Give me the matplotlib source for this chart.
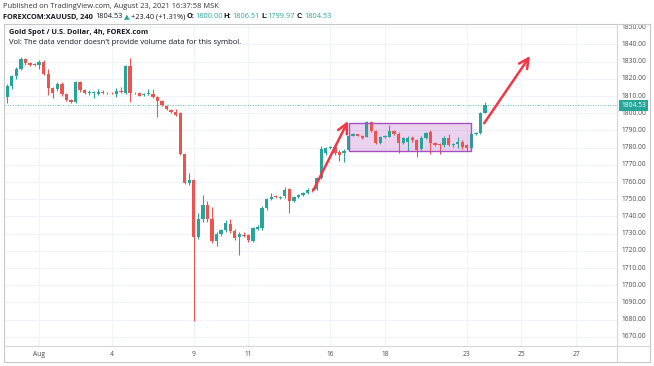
import matplotlib
matplotlib.use("Agg")
import matplotlib.pyplot as plt
from matplotlib.patches import Rectangle
import numpy as np

# ---------------- data (4h candles, oldest first) ----------------
opens = [1809.5, 1816, 1821.5, 1826, 1831.5, 1829, 1828.6, 1828.2, 1830, 1822.8,
         1814.5, 1814, 1817, 1811, 1807.7, 1806.7, 1818, 1813.5, 1812, 1812,
         1811, 1812.5, 1811.6, 1812, 1811, 1813, 1811.8, 1827.5, 1811.6, 1812,
         1810.4, 1811.2, 1811.2, 1809.3, 1807.3, 1804.4, 1801.9, 1801, 1800, 1776.3,
         1759.3, 1761, 1728, 1738.4, 1746.7, 1738.4, 1726, 1729.8, 1732, 1735.6,
         1731.7, 1728, 1729.5, 1729.3, 1726, 1732.7, 1733.2, 1744.8, 1750, 1751.8,
         1751, 1751.9, 1755.8, 1749.2, 1751.2, 1752.5, 1753.5, 1755.6, 1756, 1762.6,
         1776.7, 1779.7, 1780.2, 1777.5, 1776.7, 1778.7, 1787, 1787.8, 1787, 1786.4,
         1794.8, 1789.7, 1782.6, 1786.4, 1786.4, 1789.7, 1787.8, 1782.8, 1783.5, 1785.5,
         1784.5, 1779.2, 1785.8, 1789, 1782.6, 1781.8, 1781.6, 1785.8, 1781.6, 1782,
         1783.5, 1781.6, 1779.6, 1788, 1788.4, 1800.0]
highs = [1817, 1822.5, 1827, 1833, 1832, 1830, 1829.5, 1831, 1831, 1826,
         1815, 1818, 1818, 1812, 1808.5, 1819, 1819, 1814, 1813.5, 1813,
         1814, 1813.5, 1812.5, 1812.5, 1814.5, 1815, 1828, 1832, 1812.5, 1812.5,
         1811.7, 1814, 1814, 1810, 1808, 1805, 1802.5, 1802.5, 1801, 1777,
         1765.5, 1762, 1742, 1752.5, 1749, 1745.7, 1731, 1733, 1738, 1738.5,
         1733, 1731, 1731, 1730, 1734, 1735, 1746, 1751, 1753.5, 1752.5,
         1752, 1757, 1756.5, 1752, 1753, 1754.5, 1756.5, 1756.5, 1763, 1781,
         1780.5, 1781, 1781, 1778.5, 1779, 1787.5, 1788.5, 1788.2, 1787.5, 1795.5,
         1795.5, 1790.5, 1787, 1787.5, 1793, 1790.5, 1789, 1786, 1786.5, 1786.5,
         1785, 1786.5, 1789, 1790, 1783.5, 1782.5, 1786.5, 1788, 1783, 1786,
         1784.5, 1782, 1789, 1789, 1800.5, 1806.51]
lows = [1806, 1814, 1820, 1825, 1828, 1827.5, 1827.5, 1826, 1822, 1810.5,
        1809, 1813, 1810, 1807, 1806, 1806, 1812.5, 1811, 1810.5, 1809,
        1810.5, 1811, 1811, 1811, 1809.5, 1811.5, 1811, 1806.7, 1811, 1809.8,
        1810, 1810.5, 1809, 1798, 1804.5, 1802, 1800.2, 1798.5, 1776, 1759,
        1758.5, 1679, 1727, 1737, 1737, 1724.6, 1723, 1728.5, 1731, 1730.5,
        1726.5, 1717.6, 1728, 1725, 1725, 1732, 1732, 1744, 1749.5, 1750.5,
        1750, 1751, 1742, 1748.5, 1750.5, 1752, 1753, 1754.5, 1755.5, 1762,
        1776, 1779, 1776, 1772, 1771.5, 1778, 1786.5, 1786.5, 1785, 1786,
        1789, 1782, 1782, 1785.5, 1786, 1787.5, 1777, 1782, 1778, 1783.5,
        1774.8, 1778.5, 1785, 1776.5, 1781, 1776.5, 1780.5, 1781, 1780.5, 1780,
        1779.5, 1778, 1778, 1787.5, 1788, 1799.97]
closes = [1816, 1821.5, 1826, 1831.5, 1829, 1828.3, 1828.2, 1830, 1822.8, 1814.5,
          1811.8, 1817, 1811, 1807.7, 1806.7, 1818, 1813.5, 1812, 1812.6, 1812.4,
          1812.5, 1811.6, 1812, 1811.5, 1813.2, 1812.2, 1827.5, 1811.6, 1812, 1810.2,
          1811.2, 1811.6, 1809.6, 1807.3, 1804.8, 1802.5, 1800.6, 1799, 1776.3, 1759.3,
          1761, 1728, 1738.4, 1746.7, 1738.4, 1726, 1729.8, 1732, 1736, 1731.7,
          1727.3, 1729.8, 1728.7, 1726.3, 1733.2, 1734, 1744.8, 1750, 1751.5, 1751.3,
          1751.2, 1755.4, 1749.2, 1751.2, 1752.5, 1753.5, 1755.4, 1755.2, 1762.6, 1779,
          1779.7, 1780.2, 1776.7, 1776, 1778.3, 1787, 1787.8, 1787, 1785.6, 1794.8,
          1789.7, 1782.6, 1786.4, 1786.6, 1789.7, 1787.8, 1782.6, 1785.5, 1785.8, 1784.2,
          1778.7, 1785.8, 1788.4, 1782.6, 1781.7, 1781.6, 1785.8, 1781.6, 1782.2, 1783.5,
          1780.3, 1779.6, 1788, 1788.4, 1800, 1804.53]

tick_index = [7, 23, 41, 53, 71, 83, 101, 113, 125]
tick_labels = ["Aug", "4", "9", "11", "16", "18", "23", "25", "27"]
price_ticks = list(range(1670, 1851, 10))
last_price = 1804.53

# drawings (bar index, price)
range_box = [75.1, 101.9, 1778.3, 1794.2]
arrow_1 = [(67.3, 1755.4), (74.9, 1795.5)]
arrow_2 = [(104.8, 1794.2), (114.9, 1833.3)]

# ---------------- style ----------------
UP = "#26a69a"
DOWN = "#ef5350"
GRID = "#f0f3fa"
TXT = "#131722"
W, H = 654, 366

fig = plt.figure(figsize=(W / 100, H / 100), dpi=100)
fig.patch.set_facecolor("white")
plt.rcParams["font.family"] = ["Open Sans", "DejaVu Sans"]

left, right, top, bottom = 5, 617, 24, 346
ax = fig.add_axes([left / W, 1 - bottom / H, (right - left) / W, (bottom - top) / H])
ax.set_xlim(-0.5, 134)
ax.set_ylim(1664.7, 1851.9)
for s in ax.spines.values():
    s.set_visible(False)
ax.set_xticks([])
ax.set_yticks([])

# grid
for p in price_ticks:
    ax.axhline(p, color=GRID, lw=0.8, zorder=0)
for t in tick_index:
    ax.axvline(t, color=GRID, lw=0.8, zorder=0)

# candles
o = np.array(opens); h = np.array(highs); l = np.array(lows); c = np.array(closes)
xs = np.arange(len(o))
cols = np.where(c >= o, UP, DOWN)
ax.vlines(xs, l, h, colors=cols, lw=0.8, zorder=2)
body = np.maximum(np.abs(c - o), 0.35)
ax.bar(xs, body, bottom=np.minimum(o, c), width=0.72, color=cols, zorder=3, linewidth=0)

# range box
bx0, bx1, by0, by1 = range_box
ax.add_patch(Rectangle((bx0, by0), bx1 - bx0, by1 - by0, facecolor="#9c27b0", alpha=0.2,
                       edgecolor="none", zorder=1))
ax.add_patch(Rectangle((bx0, by0), bx1 - bx0, by1 - by0, facecolor="none",
                       edgecolor="#a84fc0", lw=1.0, zorder=4))

# arrows
for (a0, a1) in (arrow_1, arrow_2):
    ax.annotate("", xy=a1, xytext=a0,
                arrowprops=dict(arrowstyle="->,head_length=0.7,head_width=0.35",
                                color="#f23645", lw=1.8, shrinkA=0, shrinkB=0),
                zorder=5)

# last price line
ax.axhline(last_price, color=UP, lw=0.6, ls=(0, (1, 2)), zorder=1)

# chart legend texts
ax.text(4 / (right - left), 1 - 8 / (bottom - top), "Gold Spot / U.S. Dollar, 4h, FOREX.com",
        transform=ax.transAxes, fontsize=5.3, fontweight="bold", color=TXT, va="center", ha="left")
ax.text(4 / (right - left), 1 - 18 / (bottom - top),
        "Vol: The data vendor doesn't provide volume data for this symbol.",
        transform=ax.transAxes, fontsize=5.5, color=TXT, va="center", ha="left")

# price axis
pax = fig.add_axes([right / W, 1 - bottom / H, (650 - right) / W, (bottom - top) / H])
pax.set_xlim(0, 1)
pax.set_ylim(ax.get_ylim())
pax.axis("off")
for p in price_ticks:
    pax.text(0.5, p, f"{p:.2f}", fontsize=4.8, color="#4a4a4a", ha="center", va="center")
pax.text(0.5, last_price, f"{last_price:.2f}", fontsize=4.8, color="white", ha="center", va="center",
         bbox=dict(boxstyle="square,pad=0.25", facecolor=UP, edgecolor="none"), zorder=5)

# time axis
tax = fig.add_axes([left / W, 1 - 362 / H, (right - left) / W, (362 - bottom) / H])
tax.set_xlim(ax.get_xlim())
tax.set_ylim(0, 1)
tax.axis("off")
for t, lab in zip(tick_index, tick_labels):
    tax.text(t, 0.5, lab, fontsize=4.8, color="#4a4a4a", ha="center", va="center")

# frame lines
def fline(x0, y0, x1, y1, color="#c8c8c8", lw=0.8):
    fig.add_artist(plt.Line2D([x0 / W, x1 / W], [1 - y0 / H, 1 - y1 / H], color=color, lw=lw))

fline(4, 24, 650, 24)
fline(4, 362, 650, 362)
fline(4, 24, 4, 362)
fline(650, 24, 650, 362)
fline(right, 24, right, 362, color="#d6d6d6")
fline(4, bottom, 650, bottom, color="#d6d6d6")

# header texts (sequential runs)
fig.canvas.draw()
renderer = fig.canvas.get_renderer()

def runs(y, items, x0=3, size=5.4):
    x = x0
    for txt, col, wt, fam, gap in items:
        t = fig.text(x / W, 1 - y / H, txt, fontsize=size, color=col, fontweight=wt,
                     va="center", ha="left", family=fam)
        bb = t.get_window_extent(renderer=renderer)
        x = bb.x1 + gap

fam = ["Open Sans", "DejaVu Sans"]
runs(6, [("Published on TradingView.com, August 23, 2021 16:37:58 MSK", "#333333", "normal", fam, 0)])
runs(17, [("FOREXCOM:XAUUSD, 240", TXT, "bold", fam, 2.0),
          ("1804.53", TXT, "normal", fam, 1.5),
          ("▲", UP, "normal", ["DejaVu Sans"], 1.5),
          ("+23.40 (+1.31%)", TXT, "normal", fam, 1.5),
          ("O:", TXT, "bold", fam, 0.5), ("1800.00", UP, "normal", fam, 1.5),
          ("H:", TXT, "bold", fam, 0.5), ("1806.51", UP, "normal", fam, 1.5),
          ("L:", TXT, "bold", fam, 0.5), ("1799.97", UP, "normal", fam, 1.5),
          ("C:", TXT, "bold", fam, 0.5), ("1804.53", UP, "normal", fam, 0)], size=5.3)

fig.savefig("out.png", dpi=100)
